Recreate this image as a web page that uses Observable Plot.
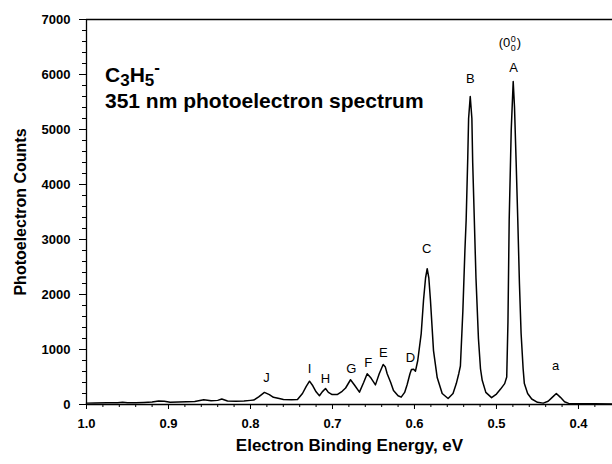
<!DOCTYPE html>
<html><head><meta charset="utf-8">
<script src="https://cdn.jsdelivr.net/npm/d3@7"></script>
<script src="https://cdn.jsdelivr.net/npm/@observablehq/plot@0.6"></script>
<style>html,body{margin:0;padding:0;background:#fff}svg{display:block}</style>
</head><body><div id="chart"></div>
<script>
// Spectrum: electron binding energy (eV) and photoelectron counts
const energy = [1.000,0.990,0.975,0.962,0.956,0.950,0.940,0.930,0.920,0.912,0.905,0.898,0.888,0.878,0.868,0.857,0.848,0.840,0.835,0.828,0.818,0.808,0.800,0.796,0.790,0.783,0.777,0.772,0.765,0.7598,0.750,0.7427,0.7366,0.732,0.728,0.724,0.720,0.7159,0.7125,0.7085,0.705,0.7004,0.6943,0.6882,0.684,0.678,0.673,0.6671,0.662,0.6577,0.653,0.6476,0.643,0.6382,0.6355,0.6333,0.629,0.6256,0.620,0.6162,0.612,0.6089,0.6055,0.6037,0.601,0.5988,0.596,0.5918,0.589,0.5865,0.5845,0.5825,0.5805,0.5768,0.5723,0.5662,0.559,0.553,0.549,0.546,0.544,0.541,0.5385,0.537,0.535,0.534,0.532,0.530,0.529,0.527,0.525,0.522,0.5195,0.5174,0.513,0.506,0.500,0.495,0.490,0.4875,0.486,0.4845,0.482,0.4796,0.478,0.476,0.474,0.472,0.470,0.4675,0.466,0.462,0.457,0.450,0.443,0.437,0.432,0.427,0.422,0.417,0.412,0.400,0.380,0.3585];
const counts = [25,28,32,30,42,30,32,38,45,65,60,42,45,50,55,85,70,75,100,65,60,65,75,80,140,220,180,130,110,90,85,90,200,330,424,340,230,160,230,290,220,180,180,240,300,450,350,225,400,560,480,357,560,727,680,560,400,255,160,133,220,364,560,636,640,606,800,1290,1890,2300,2470,2300,1890,980,490,200,110,200,380,560,700,1700,2800,3345,4500,5200,5600,5200,4400,3345,2300,1200,650,440,220,125,190,280,380,500,1500,3345,5000,5873,5400,4400,3345,2200,1300,650,380,200,100,40,25,60,130,200,130,50,20,15,12,10];

// Peak labels
const peakNames = ["A","B","C","D","E","F","G","H","I","J","a"];
const peakLabelEnergy = [0.479,0.532,0.585,0.605,0.638,0.6565,0.677,0.7085,0.728,0.7805,0.428];
const peakLabelCounts = [6127,5927,2836,855,945,764,655,473,655,491,709];
const originLabelEnergy = 0.479;
const originLabelCounts = 6580;

// Axes
const xMajorTicks = [1.0,0.9,0.8,0.7,0.6,0.5,0.4];
const xTickLabels = ["1.0","0.9","0.8","0.7","0.6","0.5","0.4"];
const xMinorTicks = d3.range(0,32).map(i => +(1.0 - i*0.02).toFixed(2)).filter(v => v > 0.36);
const yMajorTicks = [0,1000,2000,3000,4000,5000,6000,7000];
const yTickLabels = ["0","1000","2000","3000","4000","5000","6000","7000"];
const yMinorTicks = d3.range(0,36).map(i => i*200);
const xTitle = "Electron Binding Energy, eV";
const yTitle = "Photoelectron Counts";

const data = energy.map((e,i) => ({e, c: counts[i]}));
const labels = peakNames.map((n,i) => ({n, e: peakLabelEnergy[i], c: peakLabelCounts[i]}));
const FONT = "'Liberation Sans', Arial, Helvetica, sans-serif";

const chart = Plot.plot({
  width: 612, height: 464,
  marginLeft: 86, marginRight: 0, marginTop: 19, marginBottom: 60,
  style: {fontFamily: FONT, background: "#fff", color: "#000"},
  x: {type: "linear", domain: [1.0, 0.3585]},
  y: {type: "linear", domain: [0, 7000]},
  marks: [
    Plot.axisX({ticks: xMinorTicks, tickSize: 3, tickFormat: () => "", label: null}),
    Plot.axisX({ticks: xMajorTicks, tickSize: 5, tickPadding: 9, label: null,
      tickFormat: d => xTickLabels[xMajorTicks.indexOf(d)], fontSize: 13, fontWeight: "bold"}),
    Plot.axisY({ticks: yMinorTicks, tickSize: 4, tickFormat: () => "", label: null}),
    Plot.axisY({ticks: yMajorTicks, tickSize: 7, tickPadding: 9, label: null,
      tickFormat: d => yTickLabels[yMajorTicks.indexOf(d)], fontSize: 13, fontWeight: "bold"}),
    Plot.ruleY([0, 7000], {stroke: "#000", strokeWidth: 1.3}),
    Plot.ruleX([1.0], {stroke: "#000", strokeWidth: 1.3}),
    Plot.line(data, {x: "e", y: "c", stroke: "#000", strokeWidth: 1.5}),
    Plot.text(labels, {x: "e", y: "c", text: "n", fontSize: 13, fill: "#000"}),
    Plot.text([yTitle], {text: d => d, frameAnchor: "left", textAnchor: "middle", dx: -66, rotate: -90, fontSize: 16, fontWeight: "bold", fill: "#000"}),
    Plot.text([xTitle], {text: d => d, frameAnchor: "bottom", textAnchor: "middle", dy: 46, fontSize: 17, fontWeight: "bold", fill: "#000"})
  ]
});
document.getElementById("chart").appendChild(chart);

const svg = d3.select(chart);
// Title block
const t1 = svg.append("text").attr("x", 105).attr("y", 82).attr("text-anchor", "start")
  .attr("font-family", FONT).attr("font-weight", "bold").attr("font-size", 21).attr("fill", "#000");
t1.append("tspan").text("C");
t1.append("tspan").attr("dy", 4).attr("font-size", 17).text("3");
t1.append("tspan").attr("dy", -4).text("H");
t1.append("tspan").attr("dy", 4).attr("font-size", 17).text("5");
t1.append("tspan").attr("dy", -13).attr("font-size", 17).text("-");
svg.append("text").attr("x", 105).attr("y", 108).attr("text-anchor", "start")
  .attr("font-family", FONT).attr("font-weight", "bold").attr("font-size", 21).attr("fill", "#000")
  .text("351 nm photoelectron spectrum");

// (0 0 0) origin label
const sx = chart.scale("x"), sy = chart.scale("y");
const ox = sx.apply(originLabelEnergy), oy = sy.apply(originLabelCounts);
const g = svg.append("g").attr("font-family", FONT).attr("fill", "#000").attr("text-anchor", "start");
g.append("text").attr("x", ox - 3).attr("y", oy + 4.5).attr("font-size", 13).attr("text-anchor", "end").text("(0");
g.append("text").attr("x", ox - 2.5).attr("y", oy).attr("font-size", 9).text("0");
g.append("text").attr("x", ox - 2.5).attr("y", oy + 8.5).attr("font-size", 9).text("0");
g.append("text").attr("x", ox + 3.5).attr("y", oy + 4.5).attr("font-size", 13).text(")");
</script>
</body></html>
